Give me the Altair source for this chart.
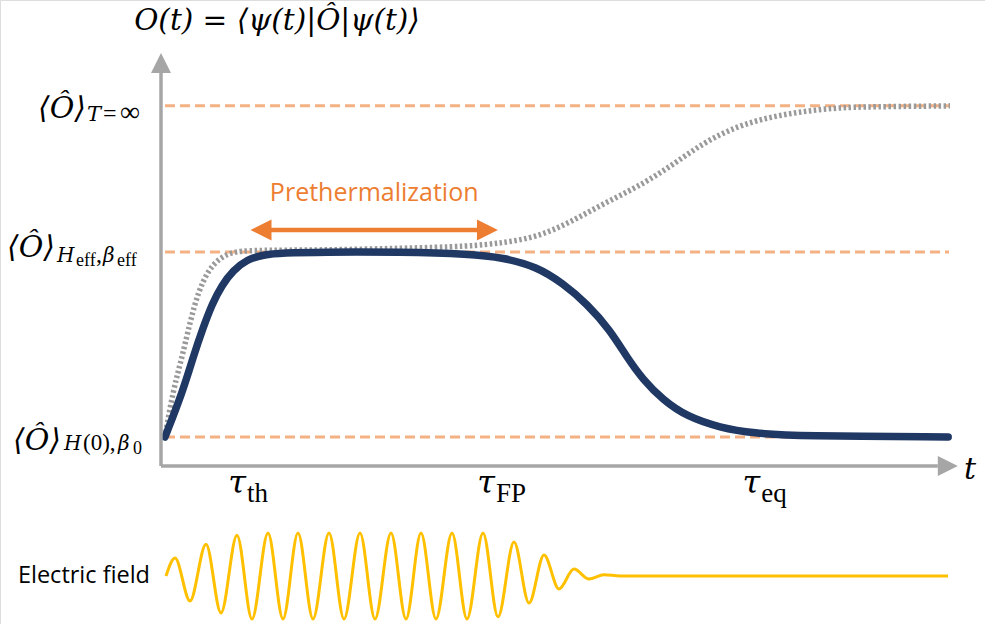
import altair as alt
import pandas as pd

# ---------------------------------------------------------------- data
# observable levels: initial thermal value, prethermal plateau, infinite temperature
level_keys = ["H0", "eff", "inf"]
level_values = [0.0, 1.0, 1.79]
level_span = [0.05, 9.85]

# characteristic times
tau_keys = ["th", "FP", "eq"]
tau_values = [1.0625, 4.175, 7.49]

# driven observable with prethermal plateau, relaxing back after the drive stops
blue_t = [0.05, 0.275, 0.40, 0.525, 0.64, 0.76, 0.90, 1.075, 1.275, 1.525, 2.0, 3.0,
          3.86, 4.275, 4.70, 5.025, 5.325, 5.61, 5.825, 6.025, 6.275, 6.575, 6.99,
          7.40, 7.99, 9.84]
blue_v = [0.0, 0.25, 0.43, 0.59, 0.72, 0.82, 0.90, 0.96, 0.985, 0.995, 1.0, 1.0,
          0.99, 0.97, 0.92, 0.83, 0.72, 0.58, 0.43, 0.31, 0.20, 0.11, 0.05,
          0.02, 0.005, 0.0]

# heating to infinite temperature under a continuing drive
gray_t = [0.05, 0.15, 0.2625, 0.3625, 0.4625, 0.5875, 0.7375, 0.90, 1.1125, 2.0, 3.0,
          3.8625, 4.275, 4.70, 5.1125, 5.525, 5.95, 6.3625, 6.775, 7.20, 7.6125,
          8.025, 8.45, 8.8625, 9.8625]
gray_v = [0.0, 0.25, 0.43, 0.62, 0.78, 0.90, 0.97, 1.0, 1.01, 1.01, 1.02,
          1.03, 1.05, 1.08, 1.16, 1.26, 1.35, 1.46, 1.59, 1.68, 1.73,
          1.76, 1.78, 1.785, 1.79]

# driving field: successive extrema of the pulse
field_t = [0.0625, 0.175, 0.3625, 0.5625, 0.75, 0.95, 1.1375, 1.3375, 1.525, 1.7125,
           1.90, 2.10, 2.2875, 2.4875, 2.675, 2.875, 3.0625, 3.25, 3.4375, 3.6375,
           3.825, 4.025, 4.2125, 4.4125, 4.60, 4.7875, 4.975, 5.1625, 5.35, 5.5375,
           5.7375, 9.8375]
field_a = [0.0, 0.42, -0.58, 0.74, -0.86, 0.95, -1.0, 1.0, -1.0, 1.0,
           -1.0, 1.0, -1.0, 1.0, -1.0, 1.0, -1.0, 1.0, -1.0, 1.0,
           -1.0, 1.0, -0.95, 0.79, -0.63, 0.49, -0.30, 0.16, -0.07, 0.03,
           0.0, 0.0]

# prethermal window arrow
pre_span = [1.25, 4.08]
pre_level = 1.119

# axes
axis_t = [0.0, 9.71]
axis_v = [-0.157, 1.968]

# ---------------------------------------------------------------- layout
W, H = 985, 624
T0_PX, PX_T = 161, 80          # horizontal: time
V0_PX, PX_V = 437, 185         # vertical: observable
E0_PX, PX_E = 576, 43          # vertical: field amplitude

X = alt.Scale(domain=[-T0_PX / PX_T, (W - T0_PX) / PX_T], nice=False, zero=False)
Y = alt.Scale(domain=[(V0_PX - H) / PX_V, V0_PX / PX_V], nice=False, zero=False)
YE = alt.Scale(domain=[(E0_PX - H) / PX_E, E0_PX / PX_E], nice=False, zero=False)

SERIF = "Liberation Serif"
ITALIC = "DejaVu Serif"
SANS = "Open Sans"
NAVY = "#1f3864"
GREY = "#a6a6a6"
PEACH = "#f4b183"
ORANGE = "#ed7d31"
GOLD = "#ffc000"

xq = lambda f: alt.X(f, type="quantitative", scale=X, axis=None)
yq = lambda f: alt.Y(f, type="quantitative", scale=Y, axis=None)

levels = pd.DataFrame({"key": level_keys, "v": level_values,
                       "t0": level_span[0], "t1": level_span[1]})
blue = pd.DataFrame({"t": blue_t, "v": blue_v})
gray = pd.DataFrame({"t": gray_t, "v": gray_v})
field = pd.DataFrame({"t": field_t, "a": field_a})
taus = pd.DataFrame({"key": tau_keys, "t": tau_values})

dashed = alt.Chart(levels).mark_rule(
    color=PEACH, strokeWidth=3, strokeDash=[10, 5]
).encode(x=xq("t0"), x2="t1", y=yq("v"))

heating = alt.Chart(gray).mark_line(
    color="#9a9a9a", strokeWidth=5.5, strokeDash=[2.5, 2.5], strokeCap="butt",
    interpolate="basis"
).encode(x=xq("t"), y=yq("v"))

observable = alt.Chart(blue).mark_line(
    color=NAVY, strokeWidth=7.5, strokeCap="round", interpolate="basis"
).encode(x=xq("t"), y=yq("v"))

ax = pd.DataFrame({"t0": [axis_t[0], axis_t[0]], "t1": [axis_t[0], axis_t[1]],
                   "v0": [axis_v[0], axis_v[0]], "v1": [axis_v[1], axis_v[0]]})
axes = alt.Chart(ax).mark_rule(color=GREY, strokeWidth=3.5).encode(
    x=xq("t0"), x2="t1", y=yq("v0"), y2="v1")

# arrowheads sit on the axis ends and point outward
head_up = alt.Chart(pd.DataFrame({"t": [axis_t[0]], "v": [axis_v[1]]})).mark_point(
    shape="M-1,0L1,0L0,-2Z", size=400, filled=True, opacity=1, color=GREY, strokeWidth=0
).encode(x=xq("t"), y=yq("v"))
head_right = alt.Chart(pd.DataFrame({"t": [axis_t[1]], "v": [axis_v[0]]})).mark_point(
    shape="M0,-1L2,0L0,1Z", size=400, filled=True, opacity=1, color=GREY, strokeWidth=0
).encode(x=xq("t"), y=yq("v"))

# prethermalization double arrow
pre = pd.DataFrame({"t0": [pre_span[0]], "t1": [pre_span[1]], "v": [pre_level]})
pre_line = alt.Chart(pre).mark_rule(color=ORANGE, strokeWidth=4.5).encode(
    x=xq("t0"), x2="t1", y=yq("v"))
pre_heads = alt.Chart(pd.DataFrame({"t": pre_span, "v": [pre_level] * 2,
                                    "side": ["l", "r"]})).mark_point(
    filled=True, opacity=1, color=ORANGE, strokeWidth=0, size=440
).encode(
    x=xq("t"), y=yq("v"),
    shape=alt.Shape("side:N", scale=alt.Scale(domain=["l", "r"],
                    range=["M1,-1L-1,0L1,1Z", "M-1,-1L1,0L-1,1Z"]), legend=None))
pre_text = alt.Chart(pd.DataFrame({"t": [sum(pre_span) / 2], "v": [pre_level]})).mark_text(
    text="Prethermalization", font=SANS, fontSize=25, color=ORANGE, dy=-37,
    baseline="middle", align="center"
).encode(x=xq("t"), y=yq("v"))

# electric field trace
efield = alt.Chart(field).mark_line(
    color=GOLD, strokeWidth=3, interpolate="monotone"
).encode(x=xq("t"),
         y=alt.Y("a:Q", scale=YE, axis=None))
efield_label = alt.Chart(pd.DataFrame({"a": [0.0]})).mark_text(
    text="Electric field", font=SANS, fontSize=23.5, align="right", baseline="middle",
    color="black"
).encode(x=alt.value(150), y=alt.Y("a:Q", scale=YE, axis=None))


def piece(df, text, x, y, size, align="left", italic=True, dy=0, dx=0):
    kw = dict(text=text, font=SERIF, fontSize=size, align=align,
              baseline="alphabetic", color="black", dy=dy, dx=dx)
    if italic:
        kw["font"] = ITALIC
        kw["fontStyle"] = "italic"
    return alt.Chart(df).mark_text(**kw).encode(x=x, y=y)


one = pd.DataFrame({"k": [0]})
layers = []

# title expression
layers.append(piece(one, "O(t) = \u27e8\u03c8(t)|\u00d4|\u03c8(t)\u27e9",
                    alt.value(277), alt.value(30), 29.5, align="center"))

# level labels
lv = dict(zip(level_keys, level_values))
df_inf = pd.DataFrame({"v": [lv["inf"]]})
df_eff = pd.DataFrame({"v": [lv["eff"]]})
df_h0 = pd.DataFrame({"v": [lv["H0"]]})
OB = "\u27e8\u00d4\u27e9"
layers += [
    piece(df_inf, OB, alt.value(86), yq("v"), 30, align="right", dy=12),
    piece(df_inf, "T", alt.value(87), yq("v"), 21, dy=15),
    piece(df_inf, "=", alt.value(103), yq("v"), 24, italic=False, dy=15),
    piece(df_inf, "\u221e", alt.value(120), yq("v"), 28, italic=False, dy=15),
    piece(df_eff, OB, alt.value(55), yq("v"), 30, align="right", dy=5),
    piece(df_eff, "H", alt.value(57), yq("v"), 20, dy=10),
    piece(df_eff, "eff", alt.value(76), yq("v"), 18, italic=False, dy=14),
    piece(df_eff, ",", alt.value(96), yq("v"), 24, italic=False, dy=10),
    piece(df_eff, "\u03b2", alt.value(103), yq("v"), 20, dy=10),
    piece(df_eff, "eff", alt.value(117), yq("v"), 18, italic=False, dy=14),
    piece(df_h0, OB, alt.value(61), yq("v"), 30, align="right", dy=13),
    piece(df_h0, "H", alt.value(64), yq("v"), 20, dy=13),
    piece(df_h0, "(0),", alt.value(83), yq("v"), 23, italic=False, dy=13),
    piece(df_h0, "\u03b2", alt.value(118), yq("v"), 20, dy=13),
    piece(df_h0, "0", alt.value(133), yq("v"), 18, italic=False, dy=17),
]

# time markers
tau_df = {k: taus[taus.key == k] for k in tau_keys}
for k in tau_keys:
    layers.append(piece(tau_df[k], "\u03c4", xq("t"), alt.value(493), 32, align="right"))
    layers.append(piece(tau_df[k], k, xq("t"), alt.value(502), 27, italic=False, dx=1))

# time axis label
layers.append(piece(one, "t", alt.value(964), alt.value(479), 30))

chart = alt.layer(
    dashed, heating, observable, axes, head_up, head_right,
    pre_line, pre_heads, pre_text, efield, efield_label, *layers
).resolve_scale(y="independent", shape="independent").properties(
    width=W, height=H, padding=0,
    autosize=alt.AutoSizeParams(type="none")
).configure_view(stroke=None).configure(background="white")

chart.save("out.html", embed_options={"renderer": "svg", "actions": False})
